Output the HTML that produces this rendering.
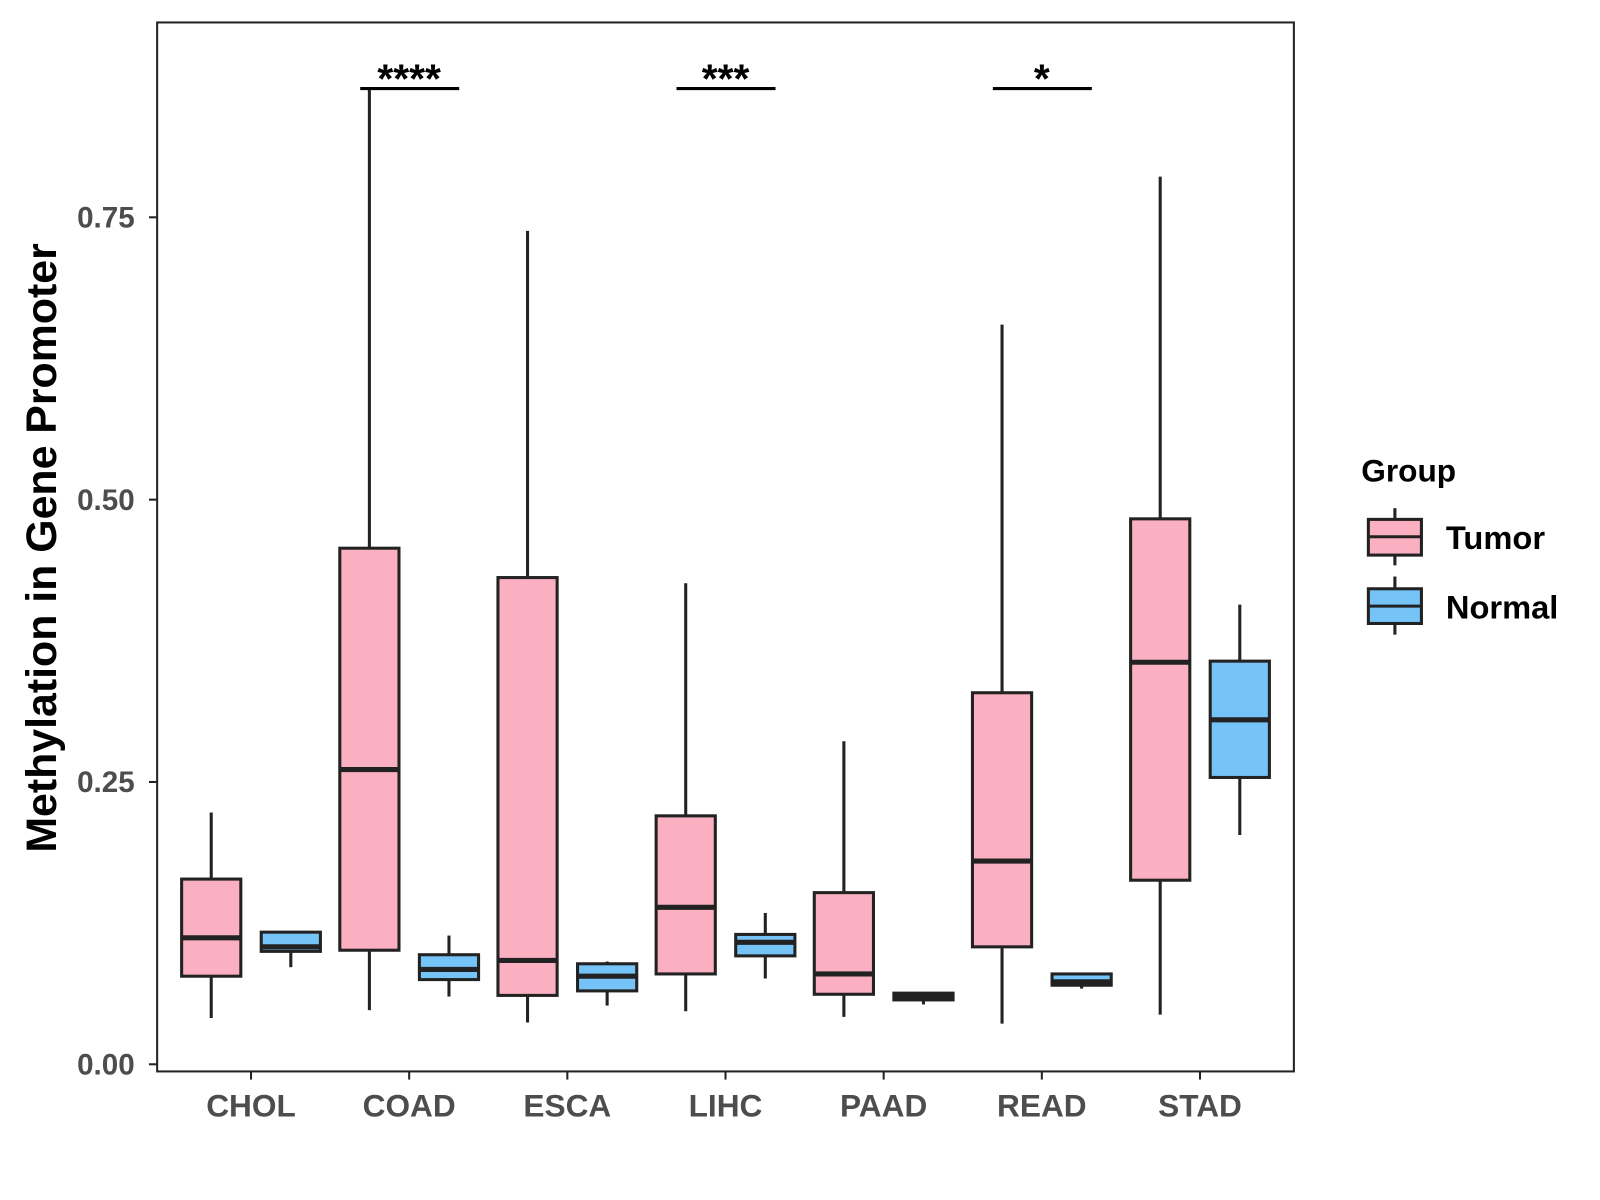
<!DOCTYPE html>
<html><head><meta charset="utf-8"><style>body{margin:0;background:#fff}svg{display:block}</style></head>
<body>
<svg id="chart" width="1600" height="1200" viewBox="0 0 1568 1176" preserveAspectRatio="none" xmlns="http://www.w3.org/2000/svg" font-family="Liberation Sans, sans-serif">
<rect x="154" y="22" width="1114" height="1028" fill="#fff" stroke="#222" stroke-width="2"/>
<g id="marks"></g>
<text transform="translate(55,537) rotate(-90)" text-anchor="middle" font-size="42" font-weight="bold" fill="#000">Methylation in Gene Promoter</text>
<g>
<text x="1334" y="472" font-size="31" font-weight="bold">Group</text>
<g>
<line x1="1367" y1="498" x2="1367" y2="554" stroke="#222" stroke-width="3"/>
<rect x="1341" y="509" width="52" height="35" fill="#FBB0C2" stroke="#222" stroke-width="3"/>
<line x1="1341" y1="526" x2="1393" y2="526" stroke="#222" stroke-width="3"/>
<text x="1417" y="538" font-size="32" font-weight="bold">Tumor</text></g>
<g>
<line x1="1367" y1="565" x2="1367" y2="622" stroke="#222" stroke-width="3"/>
<rect x="1341" y="577" width="52" height="34" fill="#76C3F7" stroke="#222" stroke-width="3"/>
<line x1="1341" y1="594" x2="1393" y2="594" stroke="#222" stroke-width="3"/>
<text x="1417" y="606" font-size="32" font-weight="bold">Normal</text></g>
</g>
</svg>
<script>
const categories=["CHOL","COAD","ESCA","LIHC","PAAD","READ","STAD"];
// [low, q1, median, q3, high]
const tumorStats=[[0.041,0.078,0.112,0.164,0.223],[0.048,0.101,0.261,0.457,0.863],[0.037,0.061,0.092,0.431,0.738],[0.047,0.080,0.139,0.220,0.426],[0.042,0.062,0.080,0.152,0.286],[0.036,0.104,0.180,0.329,0.655],[0.044,0.163,0.356,0.483,0.786]];
const normalStats=[[0.086,0.100,0.104,0.117,0.117],[0.060,0.075,0.084,0.097,0.114],[0.052,0.065,0.078,0.089,0.091],[0.076,0.096,0.108,0.115,0.134],[0.053,0.057,0.060,0.063,0.063],[0.067,0.070,0.073,0.080,0.080],[0.203,0.254,0.305,0.357,0.407]];
const yTicks=[0,0.25,0.5,0.75];
const yTickLabels=["0.00","0.25","0.50","0.75"];
const sigCats=["COAD","LIHC","READ"];
const sigLabels=["****","***","*"];
const sigY=0.864;

const NS="http://www.w3.org/2000/svg";
const svg=document.getElementById('chart');
const g=document.getElementById('marks');
const y=v=>1043-v*1106.7;
const x=i=>246+i*155;
function el(tag,attrs,parent){const e=document.createElementNS(NS,tag);for(const k in attrs)e.setAttribute(k,attrs[k]);(parent||g).appendChild(e);return e;}

yTicks.forEach((t,i)=>{
  const tk=el('line',{x1:146,x2:154,y1:y(t),y2:y(t),stroke:'#222','stroke-width':2});
  
  
  const lb=el('text',{x:132,y:y(t)+10,'text-anchor':'end','font-size':29,'font-weight':'bold',fill:'#4d4d4d'});
  lb.textContent=yTickLabels[i];
  
  
});
categories.forEach((c,i)=>{
  const tk=el('line',{x1:x(i),x2:x(i),y1:1050,y2:1058,stroke:'#222','stroke-width':2});
  
  
  const lb=el('text',{x:x(i),y:1094,'text-anchor':'middle','font-size':31,'font-weight':'bold',fill:'#4d4d4d'});
  lb.textContent=c;
  
  
});
function box(cx,s,fill,name){
  const grp=el('g',{});
  
  
  el('line',{x1:cx,x2:cx,y1:y(s[0]),y2:y(s[4]),stroke:'#222','stroke-width':3},grp);
  el('rect',{x:cx-29,y:y(s[3]),width:58,height:y(s[1])-y(s[3]),fill:fill,stroke:'#222','stroke-width':3},grp);
  el('line',{x1:cx-29,x2:cx+29,y1:y(s[2]),y2:y(s[2]),stroke:'#222','stroke-width':5},grp);
}
categories.forEach((c,i)=>{
  box(x(i)-39,tumorStats[i],'#FBB0C2','box-tumor-'+c.toLowerCase());
  box(x(i)+39,normalStats[i],'#76C3F7','box-normal-'+c.toLowerCase());
});
sigCats.forEach((c,k)=>{
  const i=categories.indexOf(c);
  const ln=el('line',{x1:x(i)-48,x2:x(i)+49,y1:y(sigY),y2:y(sigY),stroke:'#000','stroke-width':3});
  
  
  const t=el('text',{x:x(i),y:y(sigY)+4,'text-anchor':'middle','font-size':40,'font-weight':'bold',fill:'#000'});
  t.textContent=sigLabels[k];
  
  
});
</script>
</body></html>
